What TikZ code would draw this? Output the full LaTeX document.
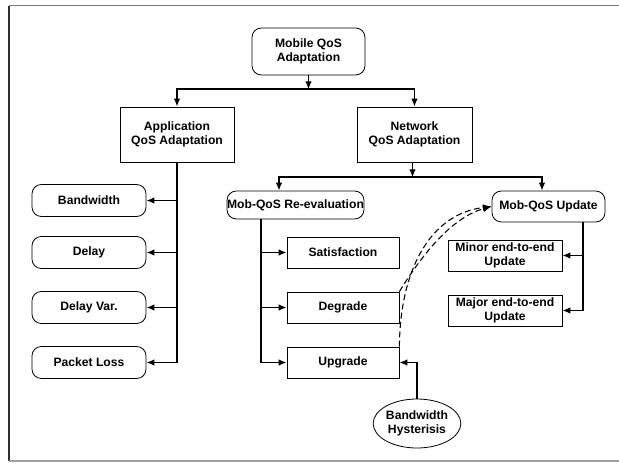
\documentclass[tikz,border=0pt]{standalone}
\usepackage{fontspec}
\setmainfont{Liberation Sans}
\usetikzlibrary{positioning,arrows.meta,calc,shapes.geometric}
\definecolor{frametop}{HTML}{7A7A7A}
\definecolor{frameleft}{HTML}{303030}
\definecolor{framebot}{HTML}{A0A0A0}

\tikzset{
  base/.style={draw, line width=0.6pt, inner sep=0pt, align=center,
    font=\fontsize{9.1}{10.8}\selectfont\bfseries},
  sqbox/.style={base, rectangle},
  rbox/.style={base, rectangle, rounded corners=7pt},
  arr/.style={line width=1.4pt, -{Latex[length=6pt,width=5pt]}},
  dasharr/.style={line width=0.8pt, dash pattern=on 4.5pt off 2.5pt,
    -{Latex[length=6.5pt,width=5pt]}}
}

\begin{document}
\begin{tikzpicture}[x=0.75pt, y=-0.75pt]
        \useasboundingbox (0,0) rectangle (619,462);
        % frame
        \draw[frametop, line width=1.2pt] (9,5.5) -- (619,5.5);
        \draw[frameleft, line width=1.2pt] (9,5.5) -- (9,461);
        \draw[framebot, line width=1.2pt] (9,461) -- (619,461);

        % top level
        \node[rbox, minimum width=84.75pt, minimum height=35.25pt] (top) at (308.5,51.5) {Mobile QoS\\Adaptation};
        \node[sqbox, minimum width=85.5pt, minimum height=41.25pt] (app) at (177,134.5) {Application\\QoS Adaptation};
        \node[sqbox, minimum width=86.25pt, minimum height=41.25pt] (net) at (414.5,134.5) {Network\\QoS Adaptation};

        % application side
        \node[rbox, minimum width=85.5pt, minimum height=24pt] (bw) at (89,200.5) {Bandwidth};
        \node[rbox, minimum width=85.5pt, minimum height=24pt] (dly) at (89,252.5) {Delay};
        \node[rbox, minimum width=85.5pt, minimum height=24pt] (dvar) at (89,307.5) {Delay Var.};
        \node[rbox, minimum width=85.5pt, minimum height=24pt] (ploss) at (89,362.5) {Packet Loss};

        % network side
        \node[rbox, minimum width=102.75pt, minimum height=21pt] (reeval) at (295.5,205) {Mob-QoS Re-evaluation};
        \node[rbox, minimum width=84.75pt, minimum height=23.25pt] (upd) at (548.5,206.5) {Mob-QoS Update};
        \node[sqbox, minimum width=84pt, minimum height=23.25pt] (sat) at (343,252.5) {Satisfaction};
        \node[sqbox, minimum width=84pt, minimum height=23.25pt] (deg) at (343,307.5) {Degrade};
        \node[sqbox, minimum width=84pt, minimum height=23.25pt] (upg) at (343,362.5) {Upgrade};
        \node[sqbox, minimum width=85.5pt, minimum height=23.25pt] (minor) at (505,255.5) {Minor end-to-end\\Update};
        \node[sqbox, minimum width=85.5pt, minimum height=23.25pt] (major) at (505,310.5) {Major end-to-end\\Update};
        \node[base, ellipse, minimum width=60.75pt, minimum height=36.75pt] (hyst) at (417,423.5) {Bandwidth\\Hysterisis};

        % bus points
        \coordinate (tbus) at ($(top.south)+(0,14)$);
        \coordinate (nbus) at ($(net.south)+(-2,15)$);
        \coordinate (rbus) at ($(reeval.south)+(-34.5,0)$);
        \coordinate (ubus) at ($(upd.south)+(34.5,0)$);

        % connectors
        \draw[arr] (top.south) -- (tbus);
        \draw[arr] (tbus) -| (app.north);
        \draw[arr] (tbus) -| (net.north);
        \draw[arr] (app.south) |- (bw.east);
        \draw[arr] (app.south) |- (dly.east);
        \draw[arr] (app.south) |- (dvar.east);
        \draw[arr] (app.south) |- (ploss.east);
        \draw[arr] (net.south -| nbus) -- (nbus);
        \draw[arr] (nbus) -| ($(reeval.north)+(-16.5,0)$);
        \draw[arr] (nbus) -| ($(upd.north)+(-6.5,0)$);
        \draw[arr] (rbus) |- (sat.west);
        \draw[arr] (rbus) |- (deg.west);
        \draw[arr] (rbus) |- (upg.west);
        \draw[arr] (ubus) |- (minor.east);
        \draw[arr] (ubus) |- (major.east);
        \draw[arr] (hyst.north) |- (upg.east);
        \draw[dasharr] (deg.north east) .. controls (420,258) and (450,218) .. (upd.west);
        \draw[dasharr] (upg.north east) .. controls (400,270) and (430,214) .. (upd.west);
      \end{tikzpicture}
\end{document}
